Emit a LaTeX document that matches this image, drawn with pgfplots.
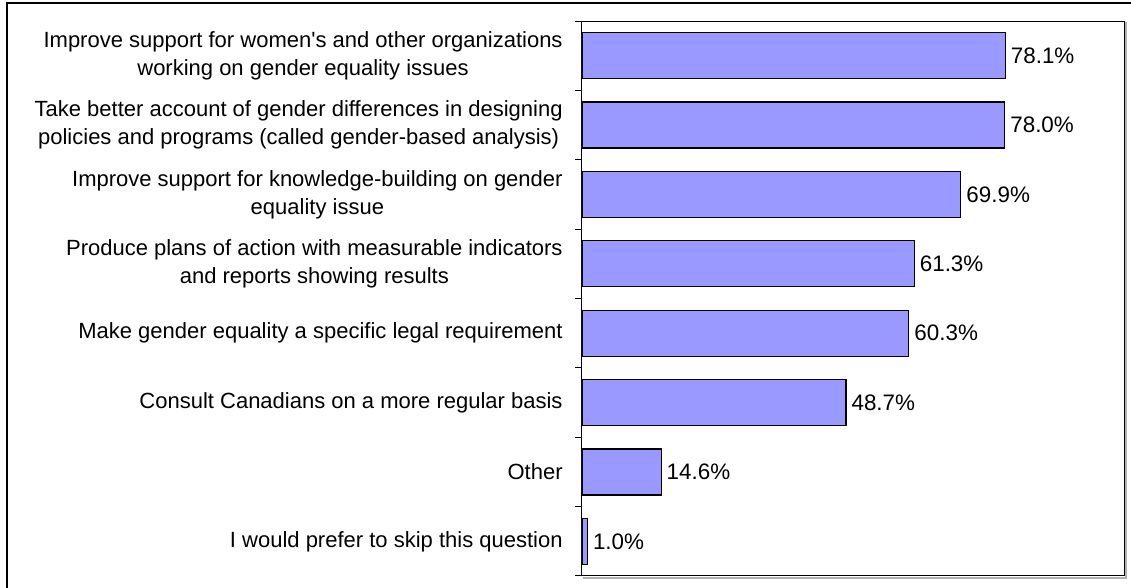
\documentclass[border=0pt]{standalone}
\usepackage{fontspec}
\setmainfont{Liberation Sans}
\usepackage{pgfplots}
\pgfplotsset{compat=1.18}
\definecolor{barblue}{HTML}{9999FF}
\begin{document}
\begin{tikzpicture}
\path[use as bounding box] (0,0) rectangle (565.5pt,294pt);
\draw[line width=0.7pt] (3.5pt,-1pt) -- (3.5pt,292.5pt) -- (566.5pt,292.5pt);
\begin{axis}[name=ax, at={(291pt,6pt)}, anchor=south west, scale only axis,
  width=271pt, height=277.5pt,
  xbar, bar width=23pt, xmin=0, xmax=100, ymin=-0.5, ymax=7.5, y dir=reverse,
  ytick={0,...,7},
  yticklabels={{Improve support for women\textquotesingle s and other organizations\\working on gender equality issues},
    {Take better account of gender differences in designing\\policies and programs (called gender-based analysis)},
    {Improve support for knowledge-building on gender\\equality issue},
    {Produce plans of action with measurable indicators\\and reports showing results},
    {Make gender equality a specific legal requirement},
    {Consult Canadians on a more regular basis},
    {Other},
    {I would prefer to skip this question}},
  minor ytick={-0.5,0.5,...,7.5}, xtick=\empty,
  ytick pos=left, tick align=outside, major tick length=0pt, minor tick length=3.5pt,
  every tick/.style={black, line width=0.5pt}, axis line style={line width=0.5pt},
  yticklabel style={align=center, font=\fontsize{11}{14}\selectfont, inner sep=0pt, xshift=-9.5pt},
  point meta=x,
  nodes near coords={\pgfmathprintnumber[fixed,fixed zerofill,precision=1,assume math mode=true]{\pgfplotspointmeta}\%},
  nodes near coords style={font=\fontsize{11.2}{13}\selectfont, anchor=west, inner sep=2.5pt, black},
]
\addplot[fill=barblue, draw=black, line width=0.6pt] coordinates {(78.1,0) (78.0,1) (69.9,2) (61.3,3) (60.3,4) (48.7,5) (14.6,6) (1.0,7)};
\end{axis}
\draw[gray!60, line width=0.6pt] ([xshift=1pt,yshift=-0.5pt]ax.north east) -- ([xshift=1pt,yshift=-1pt]ax.south east) -- ([xshift=0.5pt,yshift=-1pt]ax.south west);
\end{tikzpicture}
\end{document}
